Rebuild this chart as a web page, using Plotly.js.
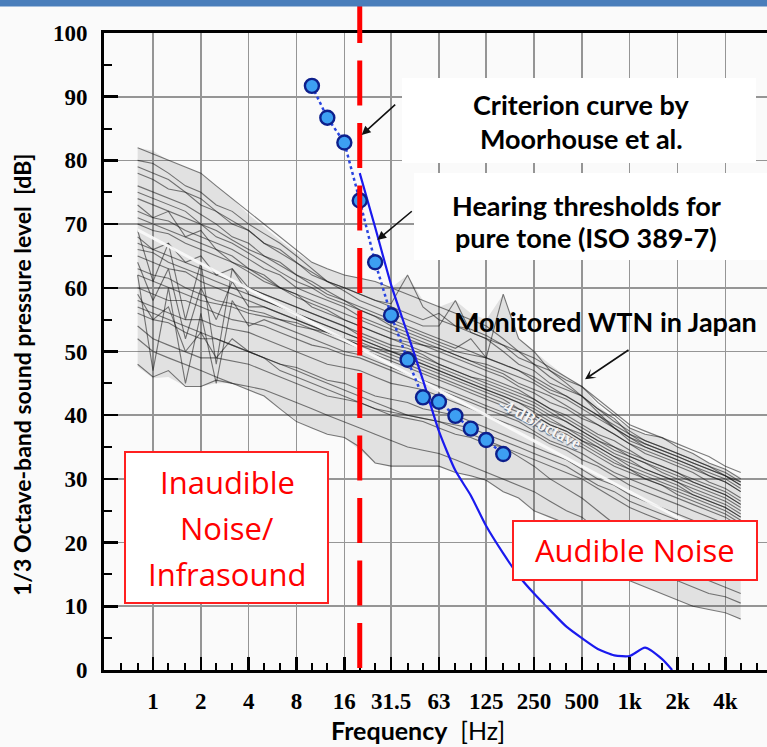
<!DOCTYPE html>
<html><head><meta charset="utf-8">
<script src="https://cdn.plot.ly/plotly-3.0.1.min.js"></script>
<style>html,body{margin:0;padding:0;background:#fafafa}</style>
</head><body><div id="chart" style="width:767px;height:747px"></div>
<script>
// 1/3-octave band centre frequencies (Hz) of the monitored spectra
const bands = [0.8,1,1.25,1.6,2,2.5,3.15,4,5,6.3,8,10,12.5,16,20,25,31.5,40,50,63,80,100,125,160,200,250,315,400,500,630,800,1000,1250,1600,2000,2500,3150,4000,5000];
// Upper / lower edge of the monitored spectra cloud (dB)
const envelopeTop    = [82,81.5,80,79,78,76,74,71.5,69.5,67.5, 65.5,64,63,62,61.7,61,60,62,58,57, 58,56,55,59,52,50,48,46,44.5,41.5, 39.5,38,37,36.5,35,34,32.5,31.5,30.3];
const envelopeBottom = [47.6,45.8,46,44.5,44.5,45,45,44,43,41, 39.2,38,37,36.5,34.5,32.5,32,32,32,31.9, 31,30.3,29.8,28,27,25.1,24,23,22,19, 16,14,13,12,11,10,9.5,9.1,7.8];
// Monitored wind-turbine noise spectra in Japan (dB), one array per site
const wtn01 = [82,81,80,79,78,76,74,72,70,68, 66,64,63,62,61.5,61,60,59,58,57, 56,55,54,52,50,48,47,45.5,44.5,42, 40,38,37,36.5,35,34,32.5,31.5,30];
const wtn02 = [80,79.5,78,76,75,73,72,70,68.5,67, 65,63,61,60,59,58,57.5,62,57,55, 54,53,52,50,48,47,45,44,43,41, 39.5,37,36,35,34,33,32,31,29.5];
const wtn03 = [78,77,75.5,75,73,72,70,69,67,66, 64,62,61,59.5,58,57,56,55,54,54, 58,53,52,51,49,48,46,44.5,43,41, 39,37.5,36,35,34,33,32,30.5,29];
const wtn04 = [76,75,74,73,71.5,70,68,67,65,64, 62,60.5,59,58,56.5,55.5,54,53,52,51, 50,49.5,49,59,52,50,47,45,43,40.5, 38,36,35,34,33,32,31,30,28.5];
const wtn05 = [74,73,72,71,70,69,67.5,66,65,63.5, 62,61,59.5,58,57,56,55,54,53,52, 51,50,49,48,47,45.5,44,43,41.5,40, 38,36.5,35,34,33,32,30.5,29.5,28];
const wtn06 = [72,71,70.5,69,68,67,66,64.5,63,62, 60,59,58,57,55.5,54.5,53.5,52.5,51.5,50.5, 49.5,48.5,47.5,46.5,45,44,43,41.5,40,38.5, 37,35.5,34,33,32,31,29.5,28.5,27];
const wtn07 = [70,69,68.5,67,66,65,64,62.5,61,60, 58.5,57.5,56.5,55,54,53,52,51,50,49, 48,47,46,45,44,42.5,41,40,38.5,37, 36,34.5,33,32,31,29.5,28.5,27.5,26];
const wtn08 = [68,66,67,64,65,62,63,60,59,58, 57,56,55,54,53,52,51,50.5,49.5,48, 47,46,45,44,43,42,40.5,39,37.5,36, 35,33.5,32.5,31,30,29,28,27,25.5];
const wtn09 = [66,65.5,64,63,62,61,60,59,58,57, 56,55,54,53,52,51,50,49,48,47, 46,45,44,43,42,41,39.5,38,37,35.5, 34,33,31.5,30.5,29.5,28,27,26,24.5];
const wtn10 = [64,58,63,52,60,55,61,57,57,56, 55,54,53,52,51,50,49,48,47,46, 45,44,43,42,41,40,38.5,37.5,36,35, 33.5,32,31,30,29,27.5,26.5,25.5,24];
const wtn11 = [62,47,60,45,56,45,58,54,55,54, 53,52,51,50,49.5,48.5,47.5,46.5,45.5,44.5, 43.5,42.5,41.5,40.5,39.5,38.5,37,36,35,33.5, 32,31,30,29,27.5,26.5,25.5,24.5,23];
const wtn12 = [60,59,58,58,57,56,55,54.5,54,53, 52,51,50.5,49.5,49,48,47,46,45,44, 43,42,41,40,39,37.5,36,35,34,32.5, 31,30,29,28,27,26,25,24,22.5];
const wtn13 = [58,57,56,55,55,54,53.5,53,52,51, 50,49,48,47.5,47,46,45,44.5,44,43, 42,41,40,39,38,37,35.5,34.5,33,32, 30.5,29,28,27,26,25,24,23,21.5];
const wtn14 = [56,55,54.5,53,52,52,51,50,49,48, 47.5,46.5,45.5,45,44,43,42.5,42,41,40.5, 40,39,38,37,36,35,34,33,31.5,30, 29,27.5,26.5,25.5,24.5,23.5,22.5,21.5,20];
const wtn15 = [54,52,51,50,49,49,48.5,48,47,46, 45,44,43,42.5,42,41,40,39.5,39,38, 37,36.5,35.5,35,34,33,32,31,30,28.5, 27,25.5,24.5,23.5,22.5,21.5,20.5,19.5,18.5];
const wtn16 = [48,46,47,44.5,44.5,45.5,45,44,43,41, 39,38,37,36.5,35,32.5,32,32,32,32, 31,30.5,29.8,28,27,25,24,23,22,19, 16,14,13,12,11,10,9.5,9,8];
const wtn17 = [52,50,49,48,47,46,45,44.5,44,43, 42,41,40,39,38,37,36,35,34.5,34, 33,32,31,30,29,28,26.5,25,24,22, 20,18,16.5,15,14,13,12,11.5,10.5];
const wtn18 = [57,56,55,54,53,52,51,50,49,48, 47,46,45,44,43,42,41,40,39.5,39, 38,37,36,35,33.5,32,30,28.5,27,25, 23,21,19,17.5,16,15,14,13,12];
const wtn19 = [71,70,69,68,67,66,64,63,61.5,60, 59,57,56,55,54,53,52,51.5,51,50, 49,48,47,46,44.5,43.5,42,41,39.5,38.5, 37,35.5,34.5,33.5,32.5,31.5,30.5,29.5,28];
const wtn20 = [65,64,63,62.5,61,60,59,58,57,56, 55,54,53,52,51,50.5,50,49,48,47, 46,45,44,43,42,40.5,39,38,36.5,35, 33.5,32.5,31.5,30.5,29.5,28.5,27.5,26.5,25];
const wtn21 = [79,78,77,75,74,72,70.5,69,67,65.5, 64,62.5,61,60,59,58,57,56,55,56, 54,53.5,52.5,51,50,49,47.5,46,44.5,42.5, 40.5,38.5,37.5,36.5,35.5,34.5,33.5,32,31];
const wtn22 = [62,61,60,59,58,57.5,57,56,55.5,55, 54,53.5,53,52,51.5,50.5,49.5,48.5,47.5,46.5, 45.5,44.5,43.5,42.5,41,40,38.5,37.5,36,34.5, 33,31.5,30.5,29.5,28.5,27.5,26.5,25.5,24];
const wtn23 = [75,74,73,72,70,68,67,65.5,64,62.5, 61,60,58.5,57.5,56.5,55.5,54.5,53.5,52.5,51.5, 50.5,52,49,48,47,46,44.5,43,41.5,40, 38.5,37,35.5,34.5,33.5,32.5,31.5,30.5,29];
const wtn24 = [67,66,65,64,63,62,61,60,59,58, 57,56,55,54,52.5,51.5,50.5,50,49,48, 47,46,45.5,44.5,43.5,42.5,41,39.5,38,36.5, 35,34,33,32,31,30,29,28,26.5];
const wtn25 = [69,61,67,55,64,48,63,59,58,57, 56,55,54,53,52,51,50,49.5,48.5,47.5, 46.5,45.5,44.5,43.5,42.5,41.5,40,39,37.5,36, 34.5,33.5,32.5,31.5,30.5,29.5,28.5,27.5,26];
const wtn26 = [59,55,57,50,53,49,52,50,49,47, 46,45,44,43,42,41,40.5,40,39.5,39, 38.5,38,37,36,35,34,33,32,30.5,29, 28,26.5,25.5,24.5,23.5,22.5,21.5,20.5,19.5];
const wtn27 = [73,71,72,68,69,66,65,63,62,60, 59,58,57,56,55,54,53,52,51,50.5, 49.5,48.5,48,47,46,45,43.5,42.5,41,39.5, 38,36.5,35.5,34.5,33.5,32.5,31.5,30.5,29.5];
const wtn28 = [63,62,61.5,60,59,58,57.5,56.5,56,55, 54.5,53.5,52.5,51.5,50.5,49.5,48.5,47.5,46.5,45.5, 44.5,43.5,42.5,41.5,40.5,39.5,38,37,35.5,34, 32.5,31.5,30,29,28,27,26,25,23.5];
const wtnSeries = [wtn01,wtn02,wtn03,wtn04,wtn05,wtn06,wtn07,wtn08,wtn09,wtn10,wtn11,wtn12,wtn13,wtn14,wtn15,wtn16,wtn17,wtn18,wtn19,wtn20,wtn21,wtn22,wtn23,wtn24,wtn25,wtn26,wtn27,wtn28];

// -4 dB/octave reference line
const trendFreqs = [0.8, 5000];
const trendLevels = [69.1, 18.7];

// Hearing thresholds for pure tone (ISO 389-7) as plotted
const isoFreqs = [10,12.5,16,20,25,31.5,40,50,63,80,100,125,160];
const isoLevels = [91.7,86.7,82.8,73.7,64.0,55.7,48.7,42.8,42.1,39.9,37.9,36.1,33.9];

// Criterion curve by Moorhouse et al.
const critFreqs = [20,25,31.5,40,50,63,80,100,125,160,200,250,315,400,500,630,800,1000,1250,1600,1850];
const critLevels = [78,69.5,60.5,52.8,45.5,37.5,31.3,27.4,22.6,18.3,14.8,12.0,9.4,6.8,5.0,3.3,2.3,2.2,3.5,1.7,0];

// Infrasound / audible boundary
const boundaryFreq = 20;

// Axis ticks
const tickFreqs = [1,2,4,8,16,31.5,63,125,250,500,1000,2000,4000];
const tickLabels = ['1','2','4','8','16','31.5','63','125','250','500','1k','2k','4k'];
const minorFreqs = [0.63,0.8,1.25,1.6,2.5,3.15,5,6.3,10,12.5,20,25,40,50,80,100,160,200,315,400,630,800,1250,1600,2500,3150,5000,6300];

const traces = [];
traces.push({x: bands, y: envelopeBottom, type:'scatter', mode:'lines',
  line:{width:0, color:'rgba(0,0,0,0)'}, hoverinfo:'skip', showlegend:false});
traces.push({x: bands, y: envelopeTop, type:'scatter', mode:'lines', fill:'tonexty',
  fillcolor:'rgba(60,60,60,0.13)', line:{width:0, color:'rgba(0,0,0,0)'}, hoverinfo:'skip', showlegend:false});
wtnSeries.forEach(s => traces.push({x: bands, y: s, type:'scatter', mode:'lines',
  line:{color:'rgba(20,20,20,0.55)', width:1.1}, hoverinfo:'skip', showlegend:false}));
traces.push({x: trendFreqs, y: trendLevels, type:'scatter', mode:'lines',
  line:{color:'rgba(250,250,250,0.92)', width:3}, hoverinfo:'skip', showlegend:false});
traces.push({x: critFreqs, y: critLevels, type:'scatter', mode:'lines',
  line:{color:'#1a1aee', width:2.2, shape:'spline', smoothing:0.6}, hoverinfo:'skip', showlegend:false, cliponaxis:false});
traces.push({x: isoFreqs, y: isoLevels, type:'scatter', mode:'lines+markers',
  line:{color:'#2a45e0', width:2.5, dash:'dot'},
  marker:{size:14, color:'#3d9ff2', line:{color:'#0d1f8c', width:2.4}},
  hoverinfo:'skip', showlegend:false, cliponaxis:false});

const PX = x => (x - 104) / 663;
const PY = y => (670 - y) / 637;
const boldFont = {family:'Lato, sans-serif', size:27, color:'#000', weight:'bold'};
const redFont = {family:'Open Sans, sans-serif', size:31, color:'#ff0000'};

function txt(text, x, y, font, extra) {
  return Object.assign({text:text, xref:'paper', yref:'paper', x:PX(x), y:PY(y),
    xanchor:'center', yanchor:'middle', showarrow:false, font:font}, extra || {});
}
function arrow(hx, hy, tx, ty, head) {
  return {text:'', xref:'paper', yref:'paper', x:PX(hx), y:PY(hy), ax:tx-hx, ay:ty-hy,
    showarrow:true, arrowhead:head, arrowsize:1.1, arrowwidth:1.6, arrowcolor:'#111', standoff:0};
}

const annotations = [
  txt('Criterion curve by', 581, 105, boldFont),
  txt('Moorhouse et al.', 581, 138, boldFont),
  txt('Hearing thresholds for', 586, 205, boldFont),
  txt('pure tone (ISO 389-7)', 586, 237, boldFont),
  txt('Monitored WTN in Japan', 605, 321, boldFont),
  txt('Inaudible', 227, 482, redFont),
  txt('Noise/', 227, 528, redFont),
  txt('Infrasound', 227, 574, redFont),
  txt('Audible Noise', 635, 550, redFont),
  txt('-4 dB/octave', 540, 423, {family:'Liberation Serif, serif', size:17, color:'#f6f6f6', weight:'bold', shadow:'1px 1px 1px #5a6a80'}, {textangle:28}),
  txt('1/3 Octave-band sound pressure level  [dB]', 22, 375, {family:'Lato, sans-serif', size:23, color:'#000', weight:'bold'}, {textangle:-90}),
  txt('<b>Frequency</b>  [Hz]', 418, 730, {family:'Lato, sans-serif', size:25, color:'#000'}),
  arrow(361.7, 135, 396.7, 103.3, 2),
  arrow(377.3, 240, 413.3, 210, 2),
  arrow(585, 379.3, 630, 349, 3)
];

const shapes = [
  {type:'line', xref:'x', yref:'paper', x0:boundaryFreq, x1:boundaryFreq, y0:PY(-2), y1:0,
   line:{color:'#ff0000', width:5, dash:'45px,17.5px'}, layer:'above'},
  {type:'rect', xref:'paper', yref:'paper', x0:PX(402), x1:PX(756), y0:PY(163), y1:PY(78),
   fillcolor:'#ffffff', line:{width:0}, layer:'above'},
  {type:'rect', xref:'paper', yref:'paper', x0:PX(414), x1:PX(770), y0:PY(260), y1:PY(173),
   fillcolor:'#ffffff', line:{width:0}, layer:'above'},
  {type:'rect', xref:'paper', yref:'paper', x0:PX(125), x1:PX(328), y0:PY(603), y1:PY(452),
   fillcolor:'#ffffff', line:{color:'#ff2020', width:2}, layer:'above'},
  {type:'rect', xref:'paper', yref:'paper', x0:PX(513), x1:PX(757), y0:PY(580), y1:PY(521),
   fillcolor:'#ffffff', line:{color:'#ff2020', width:2}, layer:'above'},
  {type:'rect', xref:'paper', yref:'paper', x0:-0.2, x1:1.1, y0:PY(6.5), y1:PY(-5),
   fillcolor:'#4a7ebb', line:{width:0}, layer:'above'}
];

const axisFont = {family:'Liberation Serif, serif', size:23, color:'#000', weight:'bold'};
const layout = {
  width:767, height:747,
  margin:{l:104, r:0, t:33, b:77},
  paper_bgcolor:'#fafafa', plot_bgcolor:'#fafafa',
  showlegend:false, hovermode:false,
  xaxis:{type:'log', range:[Math.log10(0.4915), Math.log10(7314)],
    tickmode:'array', tickvals:tickFreqs, ticktext:tickLabels,
    ticks:'inside', ticklen:13, tickwidth:2.5, tickcolor:'#000',
    showline:true, linecolor:'#000', linewidth:3, mirror:true,
    showgrid:true, gridcolor:'#959595', gridwidth:1.6, zeroline:false,
    tickfont:axisFont, ticklabelstandoff:8,
    minor:{tickmode:'array', tickvals:minorFreqs, ticks:'inside', ticklen:7, tickwidth:2, tickcolor:'#000', showgrid:false}},
  yaxis:{range:[0,100], tick0:0, dtick:10,
    ticks:'inside', ticklen:14, tickwidth:2.5, tickcolor:'#000',
    showline:true, linecolor:'#000', linewidth:3,
    showgrid:true, gridcolor:'#959595', gridwidth:1.6, zeroline:false,
    tickfont:axisFont, ticklabelstandoff:9,
    minor:{dtick:5, ticks:'inside', ticklen:8, tickwidth:2, tickcolor:'#000', showgrid:false}},
  annotations:annotations,
  shapes:shapes
};
Plotly.newPlot('chart', traces, layout, {staticPlot:true, displayModeBar:false});
</script>
</body></html>
